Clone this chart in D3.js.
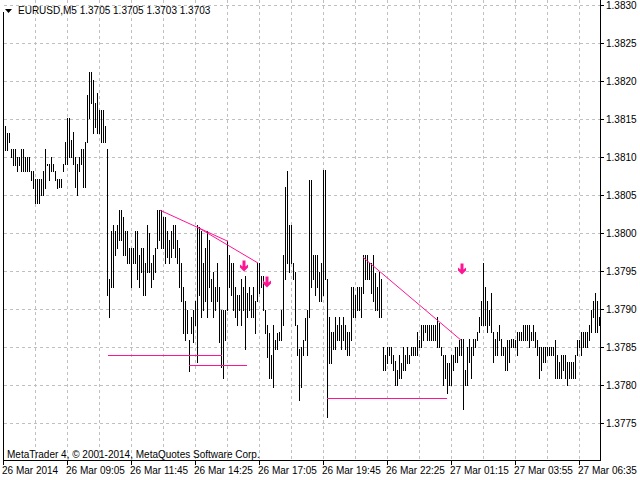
<!DOCTYPE html>
<html>
<head>
<meta charset="utf-8">
<script src="https://cdn.jsdelivr.net/npm/d3@7"></script>
<style>
  body { margin: 0; background: #fff; }
  text { font-family: "Liberation Sans", Arial, sans-serif; font-size: 10px; fill: #000; }
</style>
</head>
<body>
<svg id="chart" width="640" height="480"></svg>
<script>
// bar highs / lows in pips above 1.3700 (M5 bars, oldest first)
const highs = [
  114.1,113.1,113.1,111,111,111,110,110,111,111,110,110,110,108.1,108.1,107.1,107.1,107.1,107.1,108.1,
  111,109.1,109.1,110,109.1,108.1,107.1,107.1,107.1,109.1,112,115.1,115.1,112.2,113.3,110,109.1,110,111,111,
  112,118.2,121.2,121.2,120.1,117.1,118.4,116.2,116.2,116.2,114.1,111,94,100.2,101.1,100.2,101.1,103,103,102.1,
  100.2,100.2,98,98,98,100.2,100.2,97.1,98,98,96,101.1,100,
  96,97.1,98,103,103,103,102.1,102.1,100.2,99.1,100.2,101.1,101.1,99.1,98,96,92.9,91,89.9,85.9,
  89,89.9,91,101.1,100.8,100.2,96,98,100.2,99.1,94,94.9,92.9,96,92.9,89.9,89.9,89.9,98.9,97.1,
  96,96,92.9,91.8,91.8,94,92.9,94.3,92.1,92.9,91.8,92.9,91,96,96,94.3,94.3,89.9,87.9,86.8,
  83.9,87.9,85.9,86.8,87,89.9,97.1,106.1,108.1,101.1,101.1,96,94.9,87.9,84.8,
  85,85.9,88.8,89.9,107,107,97.1,97.1,97.1,94.9,96,108.3,108.3,94,89,87,87,89,87.9,89,
  87.9,89,87.9,87,87,92.9,92.9,91.8,92.9,92.9,92.9,97.1,97.1,97.1,96,96,97.1,94.7,92.9,94.9,
  94,85,83.9,85,85,85,83.9,83.1,82,83.9,82.9,85,83.9,85,83.9,85,85,85,87,85.9,
  87.9,87.9,87.9,87.9,87.9,87.9,87.9,87.9,89,88.1,85,83.9,83.9,82.9,82.9,
  84,84,85,85,85.9,86.1,86.1,82,85,86.1,85,86.1,86.1,87,89,91,96,92.9,91,89.9,
  92.1,87,86.1,87,87.9,86.1,85,85,85.9,85.9,86.1,86.1,85.9,87,87,87,87.9,87.9,87.9,87.9,
  87,87.9,87,85.9,85,85,85,85,85,85,85,85,85.9,84,83,84,84,84,83,83,
  83,83,84,85.9,85.9,87,87,87,87,87.9,89.9,91,92.1,91,89
];
const lows = [
  110.9,110.9,112,110,108.9,108.9,108.1,108.9,108.1,108.1,108.1,108.1,108.1,107,105.9,104,104,104,105,105,
  105.9,108.9,107,108.1,108.1,107,105.9,106,106,108.1,109.1,109.1,110,110,109.1,106,105,108.1,109.1,106,
  106,112,115.1,117.1,113.1,114,113.1,113.1,112,112,112,91.8,89,92.9,92.9,97.1,98,99.1,99.1,97.1,
  97.1,96,96,92.9,96,96,94,92.9,94.9,91.8,91.8,94.9,94.9,
  92.9,94,94.9,98,99.1,98,98,96,96.9,96,96.9,98,96.9,96,92.9,91,86.8,85.9,86.8,81.8,
  86.8,85.7,87.9,83,91.8,89,89.9,91,89,92.9,91,89,89.9,91,85.7,82.4,80.9,85.9,89.9,92.9,
  91.8,89.9,89,87.9,89.9,87.9,89.9,84.8,89,89.9,89,89,86.8,91,92.1,92.9,89.9,86.8,83.7,80.9,
  80.9,79.8,84.8,84.8,85.9,85.9,87.9,94,96,94.9,96,94,87.9,83.9,78,
  79.8,83.9,85.9,83.9,89,92.9,94,91.8,92.9,91,91,91.8,94,75.8,82.9,82.9,84.8,84.8,85.9,85.9,
  84.8,85.9,84.8,83.9,83.9,85.9,89,89,89.9,89.9,89,92.1,94,94,94,92.1,91,89.9,89.9,89,
  89,82,82,82.9,83.9,82.9,82,80,80,80.9,80.9,82,82,82.9,82.9,83.9,83.9,83.9,83.9,85,
  85,85.9,87,85.9,85.9,85.9,85.9,85.9,85,85,83.9,80,80.9,78.9,80,
  80,82,83,83,84,84,76.9,80,80,83,80.9,84,85,85.9,87,87.9,87.9,87.9,87,87.9,
  87,83,84,84,85.9,84,84,82,82,83,85,85,85,84,85.9,85.9,85.9,85.9,85.9,85,
  85.9,85.9,85,84,80.9,82,83,83,84,84,84,84,80.9,80.9,80.9,80.9,82,80.9,80,80.9,
  80.9,80.9,80.9,84,85,84,85,85,85,85.9,87,89,87,87,87.9
];

const priceTicks = ["1.3830","1.3825","1.3820","1.3815","1.3810","1.3805","1.3800","1.3795","1.3790","1.3785","1.3780","1.3775"];
const timeLabels = ["26 Mar 2014","26 Mar 09:05","26 Mar 11:45","26 Mar 14:25","26 Mar 17:05","26 Mar 19:45","26 Mar 22:25","27 Mar 01:15","27 Mar 03:55","27 Mar 06:35"];

// objects drawn on the chart: [bar index, pips]
const trendLines = [
  [[77.5,103.0],[111.5,98.9]],
  [[96,100.8],[126.5,96.05]],
  [[179,96.8],[228,85.9]]
];
const levelLines = [
  [51.5,108.5,83.95],
  [92,121,82.6],
  [161,221,78.3]
];
const arrows = [[119.5,95.6],[131,93.5],[228.5,95.2]];

const pip = v => 1.37 + v / 10000;
const svg = d3.select("#chart");
const right = 600, bottom = 460;

const x = d3.scaleLinear().domain([0, highs.length - 1]).range([5, 5 + 2 * (highs.length - 1)]);
const y = d3.scaleLinear().domain([1.3775, 1.3830]).range([423, 5]);

// grid
const grid = svg.append("g").attr("stroke", "#c0c0c0").attr("stroke-dasharray", "3,3");
grid.selectAll("line.h").data(priceTicks).enter().append("line")
  .attr("x1", 4).attr("x2", right)
  .attr("y1", d => Math.round(y(+d)) + 0.5).attr("y2", d => Math.round(y(+d)) + 0.5);
grid.selectAll("line.v").data(d3.range(1, 19)).enter().append("line")
  .attr("x1", d => Math.round(x(-1 + 16 * d)) + 0.5).attr("x2", d => Math.round(x(-1 + 16 * d)) + 0.5)
  .attr("y1", 0).attr("y2", bottom);

// bars
svg.append("g").attr("stroke", "#000").selectAll("line").data(highs).enter().append("line")
  .attr("x1", (d, i) => Math.round(x(i)) + 0.5).attr("x2", (d, i) => Math.round(x(i)) + 0.5)
  .attr("y1", d => Math.round(y(pip(d))))
  .attr("y2", (d, i) => Math.round(y(pip(lows[i]))) + 1);

// drawn objects
const pink = "#ff1493";
svg.append("g").selectAll("line").data(trendLines).enter().append("line")
  .attr("stroke", pink)
  .attr("x1", d => x(d[0][0])).attr("y1", d => y(pip(d[0][1])))
  .attr("x2", d => x(d[1][0])).attr("y2", d => y(pip(d[1][1])));
svg.append("g").selectAll("line").data(levelLines).enter().append("line")
  .attr("stroke", pink)
  .attr("x1", d => x(d[0])).attr("x2", d => x(d[1]))
  .attr("y1", d => Math.round(y(pip(d[2]))) + 0.5).attr("y2", d => Math.round(y(pip(d[2]))) + 0.5);
svg.append("g").selectAll("path").data(arrows).enter().append("path")
  .attr("fill", pink)
  .attr("transform", d => `translate(${x(d[0])},${y(pip(d[1]))})`)
  .attr("d", "M-1.5,-6 L1.5,-6 L1.5,0 L4,-2 L4,1 L0,5 L-4,1 L-4,-2 L-1.5,0 Z");

// frame
svg.append("line").attr("x1", 3.5).attr("x2", 3.5).attr("y1", 12).attr("y2", bottom).attr("stroke", "#000");
svg.append("line").attr("x1", right + 0.5).attr("x2", right + 0.5).attr("y1", 0).attr("y2", bottom + 1).attr("stroke", "#000");
svg.append("line").attr("x1", 3).attr("x2", right + 1).attr("y1", bottom + 0.5).attr("y2", bottom + 0.5).attr("stroke", "#000");

// price axis
const pa = svg.append("g");
pa.selectAll("line").data(priceTicks).enter().append("line")
  .attr("x1", right).attr("x2", right + 4).attr("stroke", "#000")
  .attr("y1", d => Math.round(y(+d)) + 0.5).attr("y2", d => Math.round(y(+d)) + 0.5);
pa.selectAll("text").data(priceTicks).enter().append("text")
  .attr("x", right + 6).attr("y", d => y(+d) + 4).text(d => d);

// time axis
const ta = svg.append("g");
ta.selectAll("line").data(timeLabels).enter().append("line")
  .attr("stroke", "#000").attr("y1", bottom).attr("y2", bottom + 5)
  .attr("x1", (d, i) => Math.round(x(-1 + 32 * i)) + 0.5).attr("x2", (d, i) => Math.round(x(-1 + 32 * i)) + 0.5);
ta.selectAll("text").data(timeLabels).enter().append("text")
  .attr("x", (d, i) => x(-1 + 32 * i) - 1).attr("y", 474).text(d => d);

// header and footer
svg.append("path").attr("d", "M5,9 L12,9 L8.5,13 Z").attr("fill", "#000");
svg.append("text").attr("x", 18).attr("y", 14).text("EURUSD,M5  1.3705 1.3705 1.3703 1.3703");
svg.append("text").attr("x", 7).attr("y", 458).text("MetaTrader 4, © 2001-2014, MetaQuotes Software Corp.");
</script>
</body>
</html>
